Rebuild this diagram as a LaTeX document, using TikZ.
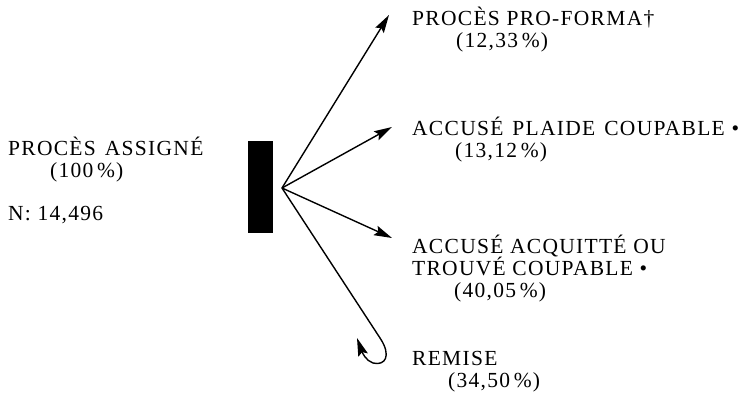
\documentclass[tikz,border=0pt]{standalone}
\usepackage{fontspec}
\setmainfont{Liberation Serif}[LetterSpace=6]
\usetikzlibrary{arrows.meta}
\newcommand{\wsp}{\hspace{9pt}}
\begin{document}
\begin{tikzpicture}[x=1pt,y=-1pt,
  lbl/.style={anchor=base west,inner sep=0pt,align=left,
    font=\fontsize{21.5}{22}\selectfont},
  ray/.style={line width=1.4pt,-{Stealth[length=18pt,width=10pt,inset=3pt]}}]
\useasboundingbox (0,0) rectangle (751,396);

% source label and the bar (anchors sit on the last line's baseline)
\node[lbl] (src) at (8,177) {PROCÈS\wsp ASSIGNÉ\\\hspace*{42pt}(100\,\%)};
\node[lbl] (n) at (8,220) {N: 14,496};
\node[fill=black,minimum width=25pt,minimum height=92pt,inner sep=0pt] (bar) at (260.5,187) {};
\coordinate (hub) at (282,188);

% outcome labels
\node[lbl] (pf) at (412,48) {PROCÈS PRO-FORMA†\\\hspace*{44pt}(12,33\,\%)};
\node[lbl] (pc) at (412,157) {ACCUSÉ\wsp PLAIDE\wsp COUPABLE •\\\hspace*{43pt}(13,12\,\%)};
\node[lbl] (aq) at (412,297) {ACCUSÉ ACQUITTÉ OU\\TROUVÉ COUPABLE •\\\hspace*{42pt}(40,05\,\%)};
\node[lbl] (rm) at (412,387) {REMISE\\\hspace*{36pt}(34,50\,\%)};

% arrow tips
\coordinate (t1) at (389,15);
\coordinate (t2) at (392,127);
\coordinate (t3) at (392,238);
\coordinate (t4) at (357,338);

\draw[ray] (hub) -- (t1);
\draw[ray] (hub) -- (t2);
\draw[ray] (hub) -- (t3);
\draw[ray] (hub) -- (380,338) .. controls (392,356) and (385,366) .. (373,363)
  .. controls (366,361) and (362,352) .. (t4);
\end{tikzpicture}
\end{document}
